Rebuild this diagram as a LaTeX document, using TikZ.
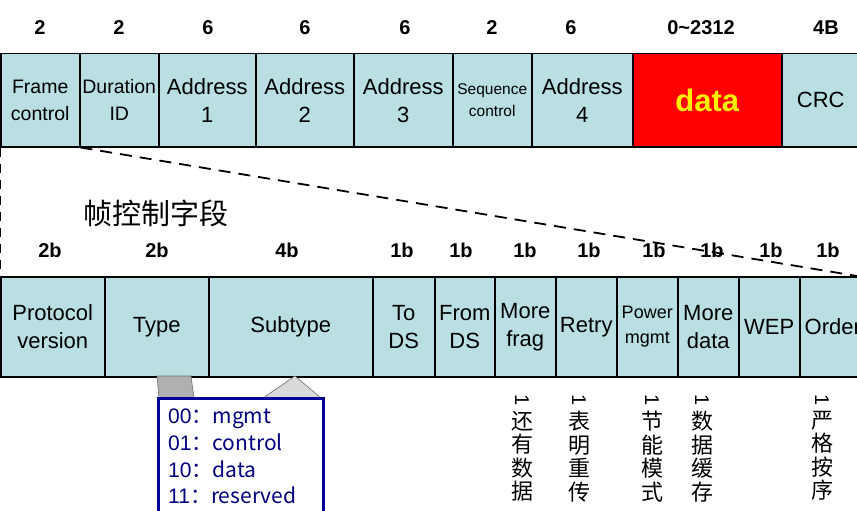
\documentclass[tikz,border=0pt]{standalone}
\usepackage{fontspec}
\setmainfont{Liberation Sans}
\newfontfamily\cjk{Noto Sans CJK SC}
\definecolor{cellblue}{RGB}{185,223,226}
\definecolor{navy}{RGB}{0,0,150}
\definecolor{navytext}{RGB}{0,0,128}
\definecolor{pgrey}{RGB}{176,176,176}
\definecolor{tgrey}{RGB}{217,217,217}
\definecolor{dgrey}{RGB}{110,110,110}
\newcommand{\fs}[2]{\fontsize{#1}{#2}\selectfont}
\tikzset{
  cell/.style={draw=black, line width=1.5pt, fill=cellblue, rectangle, inner sep=0pt, align=center, anchor=north west, font=\fs{22}{28}},
  sizelbl/.style={font=\bfseries\fs{20}{24}, inner sep=0pt},
  vtext/.style={font=\cjk\fs{22}{23.5}, align=center, inner sep=0pt, anchor=north},
  vmark/.style={font=\fs{20}{20}, inner sep=0pt, rotate=-90},
  boxline/.style={font=\fs{21}{24}, text=navytext, anchor=base west, inner sep=0pt}
}
\begin{document}
\begin{tikzpicture}[x=1pt,y=-1pt]
\useasboundingbox (0,0) rectangle (857,511);
\clip (0,0) rectangle (857,511);
% top row
\node[cell, minimum width=79pt, minimum height=93pt, font=\fs{19.5}{27}] (t1) at (0,53) {Frame\\control};
\node[cell, minimum width=79pt, minimum height=93pt, font=\fs{19.5}{27}] (t2) at (79,53) {Duration\\ID};
\node[cell, minimum width=97pt, minimum height=93pt] (t3) at (158,53) {Address\\1};
\node[cell, minimum width=98pt, minimum height=93pt] (t4) at (255,53) {Address\\2};
\node[cell, minimum width=99pt, minimum height=93pt] (t5) at (353,53) {Address\\3};
\node[cell, minimum width=79pt, minimum height=93pt, font=\fs{15.5}{22}] (t6) at (452,53) {Sequence\\control};
\node[cell, minimum width=101pt, minimum height=93pt] (t7) at (531,53) {Address\\4};
\node[cell, minimum width=149pt, minimum height=93pt, fill=red, text=yellow, font=\bfseries\fs{31}{36}] (t8) at (632,53) {data};
\node[cell, minimum width=78pt, minimum height=93pt] (t9) at (781,53) {CRC};
% top sizes
\node[sizelbl] (s1) at (40,28) {2};
\node[sizelbl] (s2) at (119,28) {2};
\node[sizelbl] (s3) at (208,28) {6};
\node[sizelbl] (s4) at (305,28) {6};
\node[sizelbl] (s5) at (405,28) {6};
\node[sizelbl] (s6) at (492,28) {2};
\node[sizelbl] (s7) at (571,28) {6};
\node[sizelbl] (s8) at (701,28) {0\char`\~2312};
\node[sizelbl] (s9) at (826,28) {4B};
% bottom row
\node[cell, minimum width=104pt, minimum height=100pt] (b1) at (0,276) {Protocol\\version};
\node[cell, minimum width=104pt, minimum height=100pt] (b2) at (104,276) {Type};
\node[cell, minimum width=164pt, minimum height=100pt] (b3) at (208,276) {Subtype};
\node[cell, minimum width=62pt, minimum height=100pt] (b4) at (372,276) {To\\DS};
\node[cell, minimum width=60pt, minimum height=100pt] (b5) at (434,276) {From\\DS};
\node[cell, minimum width=61pt, minimum height=100pt] (b6) at (494,276) {More\\frag};
\node[cell, minimum width=61pt, minimum height=100pt] (b7) at (555,276) {Retry};
\node[cell, minimum width=61pt, minimum height=100pt, font=\fs{18}{25}] (b8) at (616,276) {Power\\mgmt};
\node[cell, minimum width=61pt, minimum height=100pt] (b9) at (677,276) {More\\data};
\node[cell, minimum width=61pt, minimum height=100pt] (b10) at (738,276) {WEP};
\node[cell, minimum width=66pt, minimum height=100pt] (b11) at (799,276) {Order};
% bit sizes
\node[sizelbl] (c1) at (50,250) {2b};
\node[sizelbl] (c2) at (157,250) {2b};
\node[sizelbl] (c3) at (287,250) {4b};
\node[sizelbl] (c4) at (402,250) {1b};
\node[sizelbl] (c5) at (461,250) {1b};
\node[sizelbl] (c6) at (525,250) {1b};
\node[sizelbl] (c7) at (589,250) {1b};
\node[sizelbl] (c8) at (654,250) {1b};
\node[sizelbl] (c9) at (712,250) {1b};
\node[sizelbl] (c10) at (771,250) {1b};
\node[sizelbl] (c11) at (828,250) {1b};
% zoom dashed lines
\coordinate (zend) at (857,276);
\draw[line width=1.8pt, dash pattern=on 9pt off 7pt] (t1.south west) -- (b1.north west);
\draw[line width=1.8pt, dash pattern=on 12pt off 8pt] (t1.south east) -- (zend);
% label
\node[font=\cjk\fs{29}{32}, inner sep=0pt] (lbl) at (156,213) {帧控制字段};
% callout pointers
\coordinate (p1) at (157,376);
\coordinate (p2) at (191,376);
\coordinate (p3) at (194,398);
\coordinate (p4) at (159,398);
\draw[fill=pgrey, draw=dgrey, line width=0.6pt] (p1) -- (p2) -- (p3) -- (p4) -- cycle;
\coordinate (q1) at (295,376);
\coordinate (q2) at (321,398);
\coordinate (q3) at (263,398);
\draw[fill=tgrey, draw=dgrey, line width=0.6pt] (q1) -- (q2) -- (q3) -- cycle;
% type box
\draw[draw=navy, fill=white, line width=3pt] (158,398) rectangle (323,530);
\node[boxline] (l1) at (168,423) {00\cjk{：}mgmt};
\node[boxline] (l2) at (168,450) {01\cjk{：}control};
\node[boxline] (l3) at (168,477) {10\cjk{：}data};
\node[boxline] (l4) at (168,503) {11\cjk{：}reserved};
% vertical chinese notes
\node[vmark] (m1) at (522,400) {1};
\node[vmark] (m2) at (579,400) {1};
\node[vmark] (m3) at (652,400) {1};
\node[vmark] (m4) at (702,400) {1};
\node[vmark] (m5) at (822,400) {1};
\node[vtext] (v1) at (522,411) {还\\有\\数\\据};
\node[vtext] (v2) at (579,411) {表\\明\\重\\传};
\node[vtext] (v3) at (652,411) {节\\能\\模\\式};
\node[vtext] (v4) at (702,411) {数\\据\\缓\\存};
\node[vtext] (v5) at (822,411) {严\\格\\按\\序};
\end{tikzpicture}
\end{document}
